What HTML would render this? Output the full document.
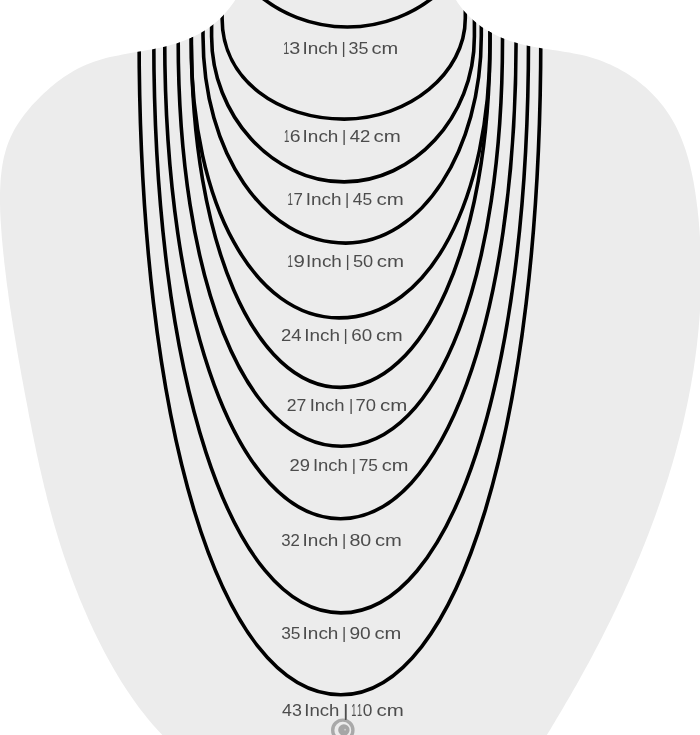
<!DOCTYPE html>
<html lang="en">
<head>
<meta charset="utf-8">
<title>Necklace length guide</title>
<style>
html,body{margin:0;padding:0;background:#fff;}
body{width:700px;height:735px;overflow:hidden;}
svg{display:block;}
.lbl{font-family:"Liberation Sans",sans-serif;font-size:16.3px;fill:#4c4c4c;will-change:transform;}
.ch{fill:none;stroke:#000;stroke-width:3.6;stroke-linecap:butt;stroke-linejoin:round;}
</style>
</head>
<body>
<svg width="700" height="735" viewBox="0 0 700 735">
<defs><path id="bust" d="M240.7 -8.8L238.4 -4.9L236.0 -1.2L233.6 2.5L231.0 6.0L228.3 9.4L225.5 12.7L222.6 15.9L219.6 18.9L216.5 21.7L213.2 24.4L209.9 27.0L206.5 29.4L203.0 31.6L199.4 33.7L195.8 35.6L192.0 37.4L188.2 39.1L184.3 40.6L180.4 42.0L176.4 43.4L172.4 44.6L168.4 45.7L164.3 46.7L160.1 47.7L156.0 48.5L151.8 49.4L147.6 50.1L143.4 50.9L139.2 51.6L135.0 52.3L130.8 53.1L126.7 53.8L122.5 54.6L118.3 55.4L114.2 56.2L110.0 57.1L106.0 58.1L101.9 59.2L97.9 60.4L93.9 61.7L90.0 63.2L86.1 64.7L82.2 66.4L78.5 68.3L74.8 70.3L71.1 72.4L67.5 74.7L63.9 77.1L60.5 79.6L57.0 82.1L53.7 84.8L50.3 87.6L47.1 90.4L43.9 93.3L40.8 96.3L37.7 99.4L34.7 102.5L31.8 105.6L29.0 108.9L26.3 112.2L23.7 115.5L21.2 119.0L18.8 122.5L16.5 126.0L14.4 129.6L12.5 133.3L10.7 137.1L9.0 140.9L7.5 144.8L6.2 148.7L5.1 152.7L4.0 156.7L3.2 160.8L2.4 164.9L1.8 169.1L1.3 173.3L0.8 177.5L0.5 181.8L0.3 186.0L0.1 190.3L0.0 194.5L-0.0 198.8L0.0 203.0L0.1 207.3L0.2 211.6L0.4 215.8L0.6 220.1L0.9 224.3L1.2 228.6L1.5 232.8L1.8 237.1L2.2 241.3L2.6 245.5L3.0 249.7L3.4 254.0L3.9 258.2L4.3 262.4L4.8 266.6L5.3 270.8L5.8 275.0L6.3 279.2L6.8 283.5L7.4 287.6L8.0 291.8L8.5 296.0L9.1 300.2L9.7 304.4L10.3 308.6L11.0 312.8L11.6 317.0L12.3 321.1L12.9 325.3L13.6 329.5L14.3 333.7L15.0 337.8L15.7 342.0L16.4 346.2L17.1 350.4L17.8 354.5L18.5 358.7L19.3 362.9L20.0 367.0L20.8 371.2L21.5 375.4L22.3 379.5L23.1 383.7L23.8 387.8L24.6 392.0L25.4 396.2L26.2 400.3L27.0 404.5L27.8 408.7L28.5 412.8L29.3 417.0L30.2 421.2L31.0 425.3L31.8 429.5L32.6 433.7L33.5 437.8L34.3 442.0L35.2 446.1L36.0 450.3L36.9 454.4L37.8 458.6L38.7 462.7L39.6 466.9L40.6 471.0L41.5 475.1L42.5 479.3L43.5 483.4L44.4 487.5L45.5 491.6L46.5 495.8L47.5 499.9L48.6 504.0L49.7 508.1L50.8 512.2L51.9 516.2L53.0 520.3L54.2 524.4L55.4 528.5L56.6 532.5L57.8 536.6L59.0 540.6L60.3 544.7L61.6 548.7L62.9 552.7L64.2 556.8L65.6 560.8L67.0 564.8L68.4 568.8L69.8 572.8L71.2 576.7L72.7 580.7L74.2 584.7L75.7 588.6L77.3 592.6L78.8 596.5L80.4 600.4L82.1 604.3L83.7 608.2L85.4 612.1L87.1 616.0L88.8 619.9L90.5 623.7L92.3 627.6L94.1 631.4L96.0 635.2L97.8 639.0L99.7 642.8L101.6 646.6L103.6 650.4L105.5 654.1L107.5 657.8L109.6 661.6L111.7 665.3L113.8 669.0L115.9 672.6L118.1 676.3L120.3 679.9L122.5 683.5L124.8 687.1L127.1 690.6L129.5 694.1L131.9 697.6L134.3 701.1L136.8 704.5L139.3 707.9L141.9 711.3L144.5 714.6L147.2 717.9L149.9 721.2L152.6 724.4L155.4 727.6L158.3 730.7L161.2 733.8L164.1 736.9L167.1 739.9L170.2 742.9L541.8 743.1L544.0 739.6L546.2 736.0L548.4 732.5L550.6 728.9L552.7 725.3L554.9 721.7L557.0 718.1L559.2 714.5L561.3 710.9L563.5 707.3L565.6 703.6L567.7 700.0L569.8 696.4L571.9 692.7L574.0 689.0L576.1 685.4L578.2 681.7L580.2 678.0L582.3 674.3L584.3 670.6L586.3 666.9L588.4 663.2L590.4 659.4L592.4 655.7L594.3 651.9L596.3 648.2L598.3 644.4L600.2 640.7L602.2 636.9L604.1 633.1L606.0 629.3L607.9 625.5L609.8 621.7L611.7 617.9L613.5 614.1L615.4 610.2L617.2 606.4L619.0 602.6L620.8 598.7L622.6 594.9L624.4 591.0L626.1 587.1L627.9 583.2L629.6 579.4L631.3 575.5L633.0 571.6L634.7 567.7L636.4 563.8L638.0 559.8L639.7 555.9L641.3 552.0L642.9 548.1L644.5 544.1L646.0 540.2L647.6 536.2L649.1 532.2L650.6 528.3L652.1 524.3L653.6 520.3L655.1 516.3L656.5 512.3L657.9 508.3L659.3 504.3L660.7 500.3L662.1 496.3L663.4 492.3L664.7 488.3L666.0 484.2L667.3 480.2L668.6 476.2L669.8 472.1L671.1 468.1L672.3 464.0L673.4 459.9L674.6 455.9L675.7 451.8L676.8 447.7L677.9 443.6L679.0 439.6L680.0 435.5L681.1 431.4L682.1 427.3L683.1 423.2L684.0 419.0L684.9 414.9L685.8 410.8L686.7 406.7L687.6 402.6L688.4 398.4L689.2 394.3L690.0 390.1L690.8 386.0L691.5 381.8L692.2 377.7L692.9 373.5L693.6 369.4L694.2 365.2L694.8 361.0L695.4 356.8L695.9 352.7L696.5 348.5L697.0 344.3L697.4 340.1L697.9 335.9L698.3 331.7L698.7 327.5L699.0 323.3L699.4 319.1L699.7 314.9L700.0 310.7L700.2 306.5L700.4 302.3L700.6 298.0L700.8 293.8L700.9 289.6L701.0 285.3L701.1 281.1L701.1 276.9L701.1 272.6L701.1 268.4L701.0 264.1L701.0 259.9L700.8 255.6L700.7 251.4L700.5 247.1L700.3 242.9L700.1 238.6L699.8 234.4L699.5 230.1L699.1 225.8L698.8 221.6L698.4 217.3L697.9 213.0L697.5 208.7L696.9 204.5L696.4 200.2L695.8 195.9L695.2 191.7L694.5 187.4L693.8 183.2L693.0 179.0L692.1 174.8L691.2 170.6L690.3 166.4L689.2 162.3L688.1 158.2L686.9 154.2L685.6 150.1L684.3 146.2L682.8 142.2L681.3 138.3L679.7 134.5L678.0 130.7L676.2 127.0L674.2 123.3L672.2 119.7L670.1 116.2L667.8 112.7L665.4 109.3L663.0 105.9L660.3 102.7L657.6 99.5L654.8 96.4L651.9 93.4L648.9 90.5L645.8 87.6L642.6 84.9L639.3 82.2L635.9 79.6L632.4 77.2L628.9 74.8L625.3 72.6L621.6 70.4L617.9 68.3L614.1 66.4L610.2 64.6L606.3 62.9L602.4 61.3L598.4 59.8L594.3 58.5L590.3 57.3L586.2 56.1L582.0 55.1L577.9 54.2L573.7 53.4L569.5 52.6L565.3 51.9L561.1 51.2L556.9 50.6L552.7 50.0L548.4 49.3L544.2 48.7L540.1 48.0L535.9 47.3L531.7 46.5L527.6 45.7L523.5 44.7L519.5 43.7L515.4 42.6L511.5 41.4L507.5 40.0L503.7 38.6L499.8 36.9L496.1 35.2L492.4 33.3L488.8 31.3L485.3 29.2L481.8 26.9L478.5 24.4L475.2 21.8L472.0 19.1L469.0 16.2L466.0 13.1L463.2 9.9L460.5 6.5L457.9 2.9L455.5 -0.8L453.2 -4.7L451.0 -8.8Z"/><clipPath id="bustclip"><use href="#bust"/></clipPath></defs>
<rect width="700" height="735" fill="#fff"/>
<use href="#bust" fill="#ececec"/>
<g clip-path="url(#bustclip)">
<ellipse class="ch" cx="347.4" cy="-106.6" rx="136.6" ry="133.6"/>
<path class="ch" d="M222.1 -30V18.2C222.1 80.7 279.4 119.1 344.2 119.1C408.6 119.1 465.3 73.6 465.3 18.2V-30"/>
<path class="ch" d="M211.6 -30V36.4C211.6 115.5 272.4 181.9 344.1 181.9C412.3 181.9 474.4 118.8 474.4 36.4V-30"/>
<path class="ch" d="M203.0 -30V35.7C203.0 153.5 264.6 243.1 345.8 243.1C421.6 243.1 481.3 150.3 481.3 35.7V-30"/>
<path class="ch" d="M191.2 -30V43.2C191.2 207.7 255.8 317.9 339.0 317.9C431.2 317.9 490.0 196.4 490.0 43.2V-30"/>
<path class="ch" d="M191.4 -30V39.8C191.4 242.7 254.4 387.4 340.4 387.4C422.5 387.4 490.0 246.7 490.0 39.8V-30"/>
<path class="ch" d="M178.2 -30V40.2C178.2 279.6 244.3 446.3 341.3 446.3C440.1 446.3 502.5 271.4 502.5 40.2V-30"/>
<path class="ch" d="M164.7 -30V38.6C164.7 322.4 238.2 518.7 340.6 518.7C442.8 518.7 516.1 319.4 516.1 38.6V-30"/>
<path class="ch" d="M153.8 -30V40.6C153.8 374.8 230.3 612.9 340.9 612.9C451.6 612.9 528.5 378.4 528.5 40.6V-30"/>
<path class="ch" d="M139.1 -30V38.1C139.1 422.3 218.7 694.8 340.8 694.8C458.5 694.8 540.8 424.6 540.8 38.1V-30"/>
</g>
<circle cx="342.8" cy="730.2" r="10.1" fill="none" stroke="#a9a9a9" stroke-width="3.4"/><circle cx="343.9" cy="730" r="5.7" fill="#a6a6a6"/><circle cx="345.1" cy="729.7" r="0.9" fill="#cfcfcf"/><rect x="344.9" y="704.2" width="1.6" height="15.6" fill="#3a3a3a"/>
<text class="lbl" y="53.5"><tspan x="283.2" textLength="6.0" lengthAdjust="spacingAndGlyphs">1</tspan><tspan x="289.2" textLength="11.0" lengthAdjust="spacingAndGlyphs">3</tspan> <tspan x="302.4" textLength="35.7" lengthAdjust="spacingAndGlyphs">Inch</tspan> <tspan x="341.5">|</tspan> <tspan x="348.5" textLength="19.9" lengthAdjust="spacingAndGlyphs">35</tspan> <tspan x="371.6" textLength="26.7" lengthAdjust="spacingAndGlyphs">cm</tspan></text>
<text class="lbl" y="141.6"><tspan x="283.9" textLength="5.4" lengthAdjust="spacingAndGlyphs">1</tspan><tspan x="289.8" textLength="10.8" lengthAdjust="spacingAndGlyphs">6</tspan> <tspan x="302.6" textLength="35.8" lengthAdjust="spacingAndGlyphs">Inch</tspan> <tspan x="341.9">|</tspan> <tspan x="349.7" textLength="20.6" lengthAdjust="spacingAndGlyphs">42</tspan> <tspan x="373.5" textLength="27.3" lengthAdjust="spacingAndGlyphs">cm</tspan></text>
<text class="lbl" y="205.2"><tspan x="287.4" textLength="5.4" lengthAdjust="spacingAndGlyphs">1</tspan><tspan x="293.5" textLength="9.4" lengthAdjust="spacingAndGlyphs">7</tspan> <tspan x="305.8" textLength="35.8" lengthAdjust="spacingAndGlyphs">Inch</tspan> <tspan x="345.0">|</tspan> <tspan x="352.8" textLength="19.4" lengthAdjust="spacingAndGlyphs">45</tspan> <tspan x="376.4" textLength="27.3" lengthAdjust="spacingAndGlyphs">cm</tspan></text>
<text class="lbl" y="267.0"><tspan x="287.4" textLength="5.4" lengthAdjust="spacingAndGlyphs">1</tspan><tspan x="293.5" textLength="11.4" lengthAdjust="spacingAndGlyphs">9</tspan> <tspan x="306.1" textLength="35.8" lengthAdjust="spacingAndGlyphs">Inch</tspan> <tspan x="345.4">|</tspan> <tspan x="352.9" textLength="20.3" lengthAdjust="spacingAndGlyphs">50</tspan> <tspan x="376.8" textLength="27.3" lengthAdjust="spacingAndGlyphs">cm</tspan></text>
<text class="lbl" y="340.6"><tspan x="281.0" textLength="20.6" lengthAdjust="spacingAndGlyphs">24</tspan> <tspan x="304.3" textLength="35.7" lengthAdjust="spacingAndGlyphs">Inch</tspan> <tspan x="343.6">|</tspan> <tspan x="351.3" textLength="20.9" lengthAdjust="spacingAndGlyphs">60</tspan> <tspan x="376.0" textLength="26.7" lengthAdjust="spacingAndGlyphs">cm</tspan></text>
<text class="lbl" y="410.6"><tspan x="286.7" textLength="19.6" lengthAdjust="spacingAndGlyphs">27</tspan> <tspan x="309.7" textLength="34.9" lengthAdjust="spacingAndGlyphs">Inch</tspan> <tspan x="348.9">|</tspan> <tspan x="355.6" textLength="20.5" lengthAdjust="spacingAndGlyphs">70</tspan> <tspan x="379.9" textLength="27.3" lengthAdjust="spacingAndGlyphs">cm</tspan></text>
<text class="lbl" y="470.6"><tspan x="289.6" textLength="20.5" lengthAdjust="spacingAndGlyphs">29</tspan> <tspan x="312.9" textLength="34.9" lengthAdjust="spacingAndGlyphs">Inch</tspan> <tspan x="351.8">|</tspan> <tspan x="358.7" textLength="19.3" lengthAdjust="spacingAndGlyphs">75</tspan> <tspan x="381.8" textLength="26.7" lengthAdjust="spacingAndGlyphs">cm</tspan></text>
<text class="lbl" y="546.0"><tspan x="281.2" textLength="18.7" lengthAdjust="spacingAndGlyphs">32</tspan> <tspan x="302.6" textLength="35.8" lengthAdjust="spacingAndGlyphs">Inch</tspan> <tspan x="342.1">|</tspan> <tspan x="349.4" textLength="21.9" lengthAdjust="spacingAndGlyphs">80</tspan> <tspan x="374.9" textLength="26.9" lengthAdjust="spacingAndGlyphs">cm</tspan></text>
<text class="lbl" y="638.6"><tspan x="281.2" textLength="19.3" lengthAdjust="spacingAndGlyphs">35</tspan> <tspan x="302.6" textLength="35.8" lengthAdjust="spacingAndGlyphs">Inch</tspan> <tspan x="341.9">|</tspan> <tspan x="349.4" textLength="21.3" lengthAdjust="spacingAndGlyphs">90</tspan> <tspan x="374.5" textLength="26.9" lengthAdjust="spacingAndGlyphs">cm</tspan></text>
<text class="lbl" y="716.2"><tspan x="282.0" textLength="19.8" lengthAdjust="spacingAndGlyphs">43</tspan> <tspan x="304.3" textLength="35.1" lengthAdjust="spacingAndGlyphs">Inch</tspan> <tspan x="343.6">|</tspan> <tspan x="351.2" textLength="5.1" lengthAdjust="spacingAndGlyphs">1</tspan><tspan x="356.9" textLength="5.2" lengthAdjust="spacingAndGlyphs">1</tspan><tspan x="362.8" textLength="9.6" lengthAdjust="spacingAndGlyphs">0</tspan> <tspan x="376.4" textLength="27.3" lengthAdjust="spacingAndGlyphs">cm</tspan></text>
</svg>
</body>
</html>
